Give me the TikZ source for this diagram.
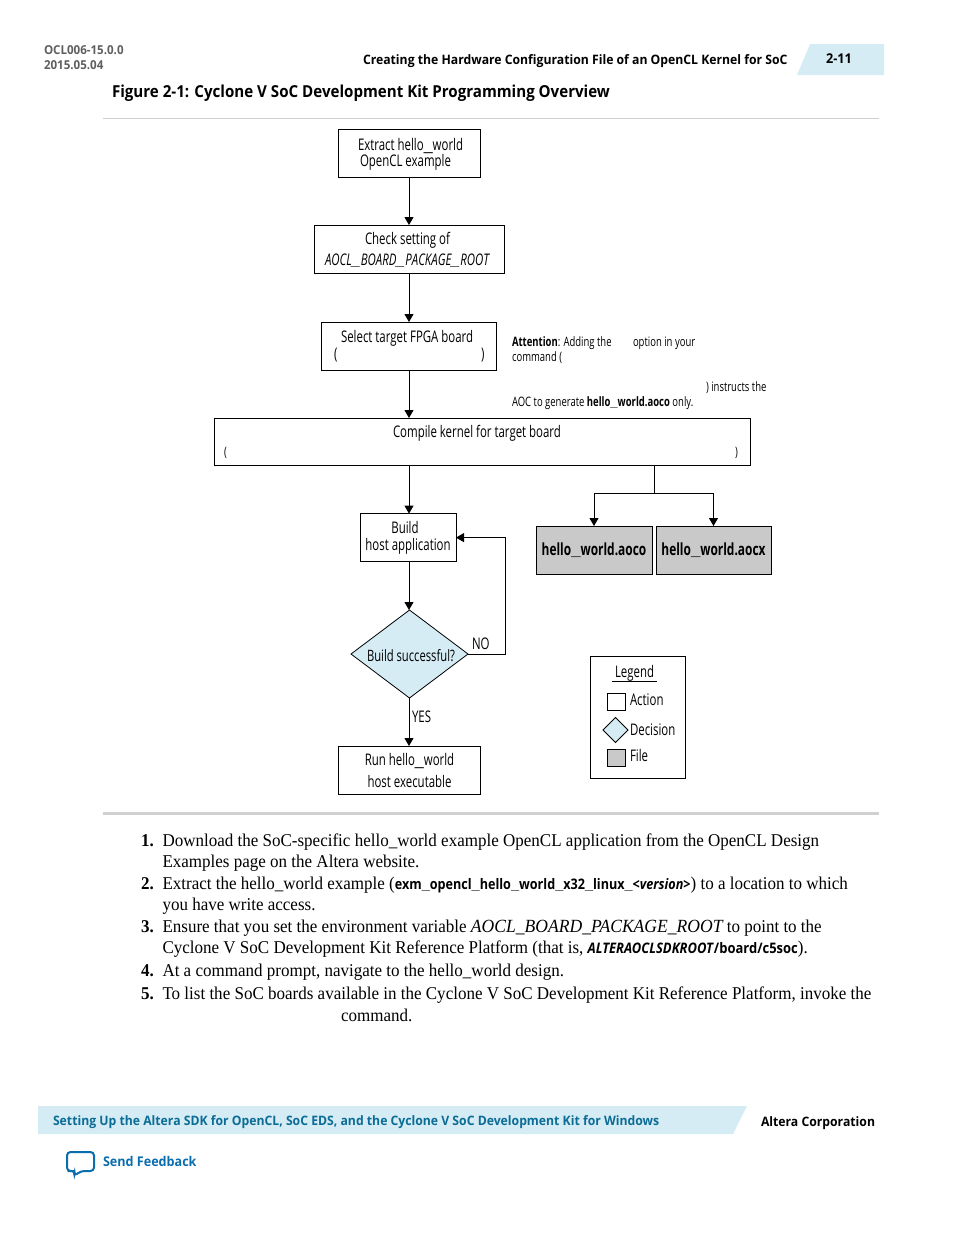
\documentclass[tikz,border=0pt]{standalone}
\usepackage{fontspec}
\usetikzlibrary{arrows.meta,shapes.geometric}
\setmainfont[FakeStretch=.945]{Liberation Serif}
\newfontfamily\flowf[FakeStretch=.715]{Open Sans}
\newfontfamily\notef[FakeStretch=.73]{Open Sans}
\newfontfamily\headf[FakeStretch=.94]{Open Sans}
\newfontfamily\titlef[FakeStretch=.916]{Open Sans}
\newfontfamily\codef[FakeStretch=.87]{Open Sans}
\newfontfamily\codeg[FakeStretch=.895]{Open Sans}
\newfontfamily\usf{Liberation Sans}
\newcommand{\us}{{\usf\_}}
\newcommand{\fsz}[2]{\fontsize{#1}{#2}\selectfont}
\definecolor{tabblue}{HTML}{D5ECF5}
\definecolor{filegray}{HTML}{C9C9C9}
\definecolor{rulegray}{HTML}{D0D0D0}
\definecolor{teal}{HTML}{0B6C96}
\definecolor{fbblue}{HTML}{0A6DAE}
\definecolor{hdgray}{HTML}{5F5F5F}
\tikzset{
  x=1pt,y=-1pt,
  every node/.style={inner sep=0pt,outer sep=0pt},
  box/.style={draw=black,line width=.9pt,fill=white,align=center,font=\flowf\fsz{16}{19}},
  filebox/.style={box,fill=filegray,font=\flowf\bfseries\fsz{16.7}{20}},
  decision/.style={shape=diamond,draw=black,line width=.8pt,fill=tabblue,aspect=1.33,font=\flowf\fsz{16}{19}},
  lbl/.style={anchor=base west,font=\flowf\fsz{16}{19}},
  note/.style={anchor=base west,font=\notef\fsz{13}{15}},
  body/.style={anchor=base west,font=\fsz{18}{21}},
  num/.style={anchor=base west,font=\bfseries\fsz{18}{21}},
  arr/.style={draw=black,line width=1pt,-{Triangle[width=9pt,length=8pt]}},
  con/.style={draw=black,line width=1pt},
  head/.style={anchor=base west,font=\headf\bfseries\fsz{13}{16}},
}
\begin{document}
\begin{tikzpicture}
\useasboundingbox (0,0) rectangle (954,1235);
% header
\fill[tabblue] (797,75) -- (810,44) -- (884,44) -- (884,75) -- cycle;
\node[head,text=hdgray,font=\headf\bfseries\fsz{12.3}{15}] (doc) at (44,54) {OCL006-15.0.0};
\node[head,text=hdgray,font=\headf\bfseries\fsz{12.3}{15}] (date) at (44,69) {2015.05.04};
\node[head] (runhead) at (363,64) {Creating the Hardware Configuration File of an OpenCL Kernel for SoC};
\node[head,font=\headf\bfseries\fsz{13.5}{16}] (page) at (826,63) {2-11};
\node[anchor=base west,font=\titlef\bfseries\fsz{16.5}{20}] (title) at (112,97) {Figure 2-1: Cyclone V SoC Development Kit Programming Overview};
\fill[rulegray] (103,118) rectangle (879,119);
\fill[rulegray] (103,812) rectangle (879,815);
% flow boxes
\node[box,minimum width=142,minimum height=48] (b1) at (409,153) {};
\node[lbl] (b1a) at (358,150) {Extract hello\us world};
\node[lbl] (b1b) at (360,166) {OpenCL example};
\node[box,minimum width=190,minimum height=48] (b2) at (409,249) {};
\node[lbl] (b2a) at (365,244) {Check setting of};
\node[lbl] (b2b) at (325,265) {\itshape AOCL\us BOARD\us PACKAGE\us ROOT};
\node[box,minimum width=175.5,minimum height=48] (b3) at (409,346) {};
\node[lbl] (b3a) at (341,342) {Select target FPGA board};
\node[lbl] (b3l) at (334,359) {(};
\node[lbl] (b3r) at (481,359) {)};
\node[box,minimum width=536,minimum height=47] (b4) at (482,441.5) {};
\node[lbl] (b4a) at (393,437) {Compile kernel for target board};
\node[note] (b4l) at (224,456) {(};
\node[note] (b4r) at (735,456) {)};
\node[box,minimum width=96,minimum height=48] (b5) at (408,537.6) {Build\hspace*{6pt}\\[-2pt]host application};
\node[decision,minimum width=117,minimum height=88] (dec) at (409.5,654) {};
\node[lbl,font=\flowf\fsz{15.7}{19}] (dect) at (367,661) {Build successful?};
\node[box,minimum width=142.5,minimum height=48] (run) at (409.5,770) {Run hello\us world\\[3pt]host executable};
\node[filebox,minimum width=116,minimum height=48] (aoco) at (594,550) {hello\us world.aoco};
\node[filebox,minimum width=115,minimum height=48] (aocx) at (713.5,550) {hello\us world.aocx};
% attention note
\node[note] (n1) at (512,346) {\textbf{Attention}: Adding the};
\node[note] (n2) at (633,346) {option in your};
\node[note] (n3) at (512,361) {command (};
\node[note] (n4) at (706,391) {) instructs the};
\node[note] (n5) at (512,406) {AOC to generate \textbf{hello\us world.aoco} only.};
% connectors
\coordinate (split) at (654.5,493);
\coordinate (loop) at (505,600);
\coordinate (spine) at (409,600);
\draw[arr] (b1.south -| spine) -- (b2.north -| spine);
\draw[arr] (b2.south -| spine) -- (b3.north -| spine);
\draw[arr] (b3.south -| spine) -- (b4.north -| spine);
\draw[arr] (b4.south -| spine) -- (b5.north -| spine);
\draw[arr] (b5.south -| spine) -- (dec.north -| spine);
\draw[arr] (dec.south -| spine) -- (run.north -| spine);
\draw[con] (b4.south -| split) -- (split);
\draw[arr] (split) -| (aoco.north);
\draw[arr] (split) -| (aocx.north);
\draw[arr] (dec.east) -- (dec.east -| loop) -- (b5.east -| loop) -- (b5.east);
\node[lbl] (no) at (472,649) {NO};
\node[lbl] (yes) at (412,722) {YES};
% legend
\node[box,minimum width=95,minimum height=122] (leg) at (637.5,717) {};
\node[lbl] (legt) at (615,677) {Legend};
\draw[black,line width=.8pt] (612,681.5) -- (657,681.5);
\node[box,minimum width=18,minimum height=17] (la) at (616,702) {};
\node[lbl] (lat) at (630,705) {Action};
\node[decision,minimum width=25,minimum height=25,aspect=1] (ld) at (615.5,730) {};
\node[lbl] (ldt) at (630,735) {Decision};
\node[box,fill=filegray,minimum width=18,minimum height=17] (lf) at (616,757.5) {};
\node[lbl] (lft) at (630,761) {File};
% body
\node[num] (s1) at (141,846) {1.};
\node[body] (l1) at (162.5,846) {Download the SoC-specific hello\_world example OpenCL application from the OpenCL Design};
\node[body] (l2) at (162.5,867) {Examples page on the Altera website.};
\node[num] (s2) at (141,889) {2.};
\node[body] (l3) at (162.5,889) {Extract the hello\_world example ({\codef\bfseries\fsz{14.5}{15}exm\us opencl\us hello\us world\us x32\us linux\us <\textit{version}>}) to a location to which};
\node[body] (l4) at (162.5,910) {you have write access.};
\node[num] (s3) at (141,932) {3.};
\node[body] (l5) at (162.5,932) {Ensure that you set the environment variable {\fsz{18.6}{21}\itshape AOCL\_BOARD\_PACKAGE\_ROOT} to point to the};
\node[body] (l6) at (162.5,953) {Cyclone V SoC Development Kit Reference Platform (that is, {\codeg\bfseries\fsz{14.5}{15}\textit{ALTERAOCLSDKROOT}/board/c5soc}).};
\node[num] (s4) at (141,976) {4.};
\node[body] (l7) at (162.5,976) {At a command prompt, navigate to the hello\_world design.};
\node[num] (s5) at (141,999) {5.};
\node[body] (l8) at (162.5,999) {To list the SoC boards available in the Cyclone V SoC Development Kit Reference Platform, invoke the};
\node[body] (l9) at (341,1021) {command.};
% footer
\fill[tabblue] (38,1106) -- (747,1106) -- (733,1134) -- (38,1134) -- cycle;
\node[head,text=teal] (ft) at (53,1125) {Setting Up the Altera SDK for OpenCL, SoC EDS, and the Cyclone V SoC Development Kit for Windows};
\node[head] (corp) at (761,1126) {Altera Corporation};
\node[head,text=fbblue,font=\headf\bfseries\fsz{13.4}{16}] (fb) at (103,1166) {Send Feedback};
\draw[fbblue,line width=2pt,rounded corners=3.5pt,fill=white] (71,1171) -- (67,1171) -- (67,1152) -- (94,1152) -- (94,1171) -- (81,1171) -- (74,1176) -- (75,1171) -- cycle;
\end{tikzpicture}
\end{document}
